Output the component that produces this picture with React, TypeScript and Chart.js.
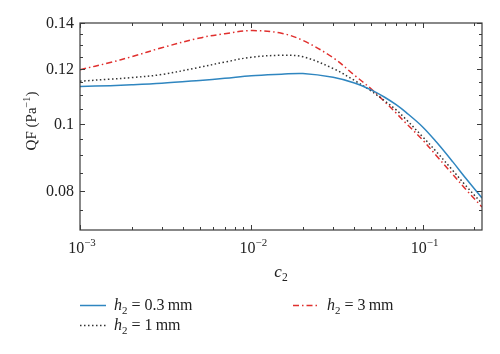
import React, { useEffect, useRef } from "react";
import { Chart, registerables } from "chart.js";
Chart.register(...registerables);

// ---- data ----
const c2Values = [0.001, 0.0015, 0.002, 0.003, 0.005, 0.007, 0.01, 0.015, 0.02, 0.03, 0.04, 0.05, 0.06, 0.07, 0.08, 0.1, 0.12, 0.15, 0.18, 0.222];
const qfH03 = [0.1133, 0.1136, 0.1139, 0.1145, 0.1156, 0.1164, 0.1174, 0.118, 0.1183, 0.1168, 0.1146, 0.112, 0.1093, 0.1066, 0.1039, 0.099, 0.0942, 0.0881, 0.0832, 0.0781];
const qfH1 = [0.1153, 0.1161, 0.1167, 0.1179, 0.1208, 0.1229, 0.1249, 0.1257, 0.1251, 0.1203, 0.1156, 0.1116, 0.108, 0.1048, 0.1015, 0.0958, 0.0912, 0.0856, 0.0812, 0.0767];
const qfH3 = [0.1198, 0.1227, 0.1251, 0.1289, 0.1332, 0.1351, 0.1365, 0.1353, 0.1321, 0.1247, 0.1176, 0.1124, 0.1077, 0.1037, 0.1002, 0.0948, 0.09, 0.0845, 0.0802, 0.0758];

const xMin = 0.001;
const xMax = 0.222;
const yMin = 0.0702;
const yMax = 0.14;
const xMajorTicks = [0.001, 0.01, 0.1];
const xTickExponents = ["\u22123", "\u22122", "\u22121"];
const yMajorTicks = [0.08, 0.1, 0.12, 0.14];
const yTickLabels = ["0.08", "0.1", "0.12", "0.14"];
const yMinorTicks = [0.075, 0.085, 0.09, 0.095, 0.105, 0.11, 0.115, 0.125, 0.13, 0.135];
const legendValues = ["0.3", "1", "3"];
const seriesColors = ["#2f86c0", "#333333", "#e0302e"];
const seriesDashes: number[][] = [[], [1.5, 2.5], [6, 3, 1.5, 3]];

type Part = { t: string; it?: boolean; sup?: boolean; sub?: boolean };
const FONT = '"Liberation Serif", "Times New Roman", serif';

function setFont(ctx: CanvasRenderingContext2D, p: Part, size: number) {
  const s = p.sup || p.sub ? size * 0.68 : size;
  ctx.font = `${p.it ? "italic " : ""}${s}px ${FONT}`;
}
function richWidth(ctx: CanvasRenderingContext2D, parts: Part[], size: number) {
  let w = 0;
  for (const p of parts) {
    setFont(ctx, p, size);
    w += ctx.measureText(p.t).width;
  }
  return w;
}
function drawRich(ctx: CanvasRenderingContext2D, parts: Part[], x: number, y: number, size: number) {
  let cx = x;
  ctx.textBaseline = "alphabetic";
  ctx.textAlign = "left";
  for (const p of parts) {
    setFont(ctx, p, size);
    const dy = p.sup ? -size * 0.42 : p.sub ? size * 0.25 : 0;
    ctx.fillText(p.t, cx, y + dy);
    cx += ctx.measureText(p.t).width;
  }
}

const decorPlugin = {
  id: "decor",
  afterDraw(chart: any) {
    const ctx: CanvasRenderingContext2D = chart.ctx;
    const a = chart.chartArea;
    const xs = chart.scales.x;
    const ys = chart.scales.y;
    ctx.save();
    ctx.fillStyle = "#222";
    ctx.strokeStyle = "#3a3a3a";
    ctx.lineWidth = 1.2;
    ctx.setLineDash([]);
    ctx.strokeRect(a.left, a.top, a.right - a.left, a.bottom - a.top);

    // x ticks (bottom and top, inward)
    ctx.lineWidth = 1;
    const xt: { v: number; major: boolean }[] = [];
    for (let e = -3; e <= -1; e++) {
      for (let k = 1; k <= 9; k++) {
        const v = k * Math.pow(10, e);
        if (v >= xMin * 0.999 && v <= xMax) xt.push({ v, major: k === 1 });
      }
    }
    ctx.beginPath();
    for (const t of xt) {
      const px = Math.round(xs.getPixelForValue(t.v)) + 0.5;
      const len = t.major ? 5 : 3;
      ctx.moveTo(px, a.bottom);
      ctx.lineTo(px, a.bottom - len);
      ctx.moveTo(px, a.top);
      ctx.lineTo(px, a.top + len);
    }
    // y ticks (left and right, inward)
    const yt = [
      ...yMajorTicks.map((v) => ({ v, major: true })),
      ...yMinorTicks.map((v) => ({ v, major: false })),
    ];
    for (const t of yt) {
      const py = Math.round(ys.getPixelForValue(t.v)) + 0.5;
      const len = t.major ? 5 : 3;
      ctx.moveTo(a.left, py);
      ctx.lineTo(a.left + len, py);
      ctx.moveTo(a.right, py);
      ctx.lineTo(a.right - len, py);
    }
    ctx.stroke();

    // y tick labels
    ctx.font = `16px ${FONT}`;
    ctx.textAlign = "right";
    ctx.textBaseline = "alphabetic";
    yMajorTicks.forEach((v, i) => {
      const py = ys.getPixelForValue(v);
      ctx.fillText(yTickLabels[i], a.left - 6, py + 5);
    });

    // x tick labels
    xMajorTicks.forEach((v, i) => {
      const px = xs.getPixelForValue(v);
      const parts: Part[] = [{ t: "10" }, { t: xTickExponents[i], sup: true }];
      const w = richWidth(ctx, parts, 16);
      drawRich(ctx, parts, px - w / 2 + 2, a.bottom + 23, 16);
    });

    // x title
    const xt2: Part[] = [{ t: "c", it: true }, { t: "2", sub: true }];
    const wx = richWidth(ctx, xt2, 17);
    drawRich(ctx, xt2, (a.left + a.right) / 2 - wx / 2, a.bottom + 47, 17);

    // y title
    const ytp: Part[] = [{ t: "QF (Pa" }, { t: "\u22121", sup: true }, { t: ")" }];
    const wy = richWidth(ctx, ytp, 15);
    ctx.save();
    ctx.translate(30, 121);
    ctx.rotate(-Math.PI / 2);
    drawRich(ctx, ytp, -wy / 2, 6, 15);
    ctx.restore();

    // legend
    const legendPos = [
      { lx: 80, ly: 305 },
      { lx: 80, ly: 325 },
      { lx: 293, ly: 305 },
    ];
    legendPos.forEach((p, i) => {
      ctx.save();
      ctx.strokeStyle = seriesColors[i];
      ctx.lineWidth = 1.5;
      ctx.setLineDash(seriesDashes[i]);
      ctx.beginPath();
      ctx.moveTo(p.lx, p.ly + 0.5);
      ctx.lineTo(p.lx + 26, p.ly + 0.5);
      ctx.stroke();
      ctx.restore();
      const parts: Part[] = [
        { t: "h", it: true },
        { t: "2", sub: true },
        { t: " = " + legendValues[i] + "\u2009mm" },
      ];
      ctx.fillStyle = "#222";
      drawRich(ctx, parts, p.lx + 34, p.ly + 5, 16);
    });
    ctx.restore();
  },
};

export default function App() {
  const ref = useRef<HTMLCanvasElement | null>(null);
  useEffect(() => {
    if (!ref.current) return;
    const mk = (vals: number[]) => c2Values.map((x, i) => ({ x, y: vals[i] }));
    const seriesList = [qfH03, qfH1, qfH3];
    const chart = new Chart(ref.current, {
      type: "line",
      data: {
        datasets: seriesList.map((vals, i) => ({
          label: "h2 = " + legendValues[i] + " mm",
          data: mk(vals),
          borderColor: seriesColors[i],
          borderWidth: 1.5,
          borderDash: seriesDashes[i],
          pointRadius: 0,
          fill: false,
          tension: 0.35,
        })),
      },
      options: {
        responsive: false,
        animation: false,
        layout: { padding: { left: 80, right: 18, top: 23, bottom: 124 } },
        plugins: { legend: { display: false }, tooltip: { enabled: false } },
        scales: {
          x: { type: "logarithmic", min: xMin, max: xMax, display: false },
          y: { type: "logarithmic", min: yMin, max: yMax, display: false },
        },
      },
      plugins: [decorPlugin],
    });
    return () => chart.destroy();
  }, []);
  return (
    <div style={{ position: "absolute", left: 0, top: 0, width: 500, height: 354, background: "#fff" }}>
      <canvas ref={ref} width={500} height={354} />
    </div>
  );
}
